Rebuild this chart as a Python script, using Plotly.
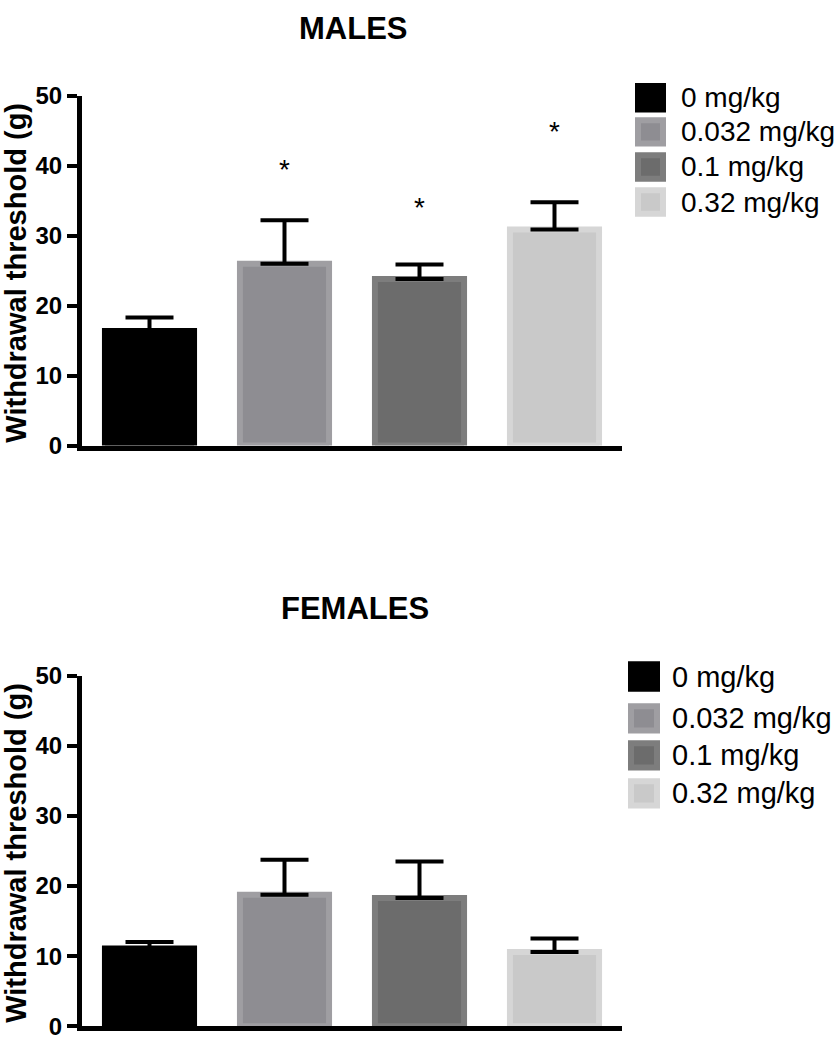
import plotly.graph_objects as go

W, H = 838, 1050

doses = ["0 mg/kg", "0.032 mg/kg", "0.1 mg/kg", "0.32 mg/kg"]
males_mean = [16.4, 26.0, 23.8, 30.9]
males_sem = [1.9, 6.2, 2.1, 3.9]
females_mean = [11.1, 18.75, 18.3, 10.6]
females_sem = [0.9, 5.0, 5.2, 1.9]
sig_doses = ["0.032 mg/kg", "0.1 mg/kg", "0.32 mg/kg"]
sig_y = [39.1, 33.7, 44.6]
y_ticks = [0, 10, 20, 30, 40, 50]

fill_colors = ["#000000", "#8e8d92", "#6c6c6c", "#c9c9c9"]
edge_colors = ["#000000", "#9f9ea2", "#7d7d7d", "#d6d6d6"]

FONT = "Liberation Sans, Arial, sans-serif"

def px_x(p):
    return p / W

def px_y(p):
    return 1 - p / H

fig = go.Figure()

panels = [
    ("y", "x", males_mean, males_sem),
    ("y2", "x2", females_mean, females_sem),
]
for yref, xref, mean, sem in panels:
    fig.add_trace(go.Bar(
        x=doses, y=mean, xaxis=xref, yaxis=yref,
        width=0.66,
        marker=dict(color=fill_colors, line=dict(color=edge_colors, width=6)),
        error_y=dict(type="data", symmetric=False, array=sem,
                     arrayminus=[0] * len(sem), color="black",
                     thickness=4, width=24),
        showlegend=False, hoverinfo="skip",
    ))

fig.add_trace(go.Scatter(
    x=sig_doses, y=sig_y, xaxis="x", yaxis="y", mode="text",
    text=["*"] * len(sig_doses), textposition="middle center",
    textfont=dict(family=FONT, size=28, color="black"),
    showlegend=False, hoverinfo="skip",
))

xdom = [px_x(82), px_x(622)]
xcommon = dict(domain=xdom, type="category", categoryorder="array",
               categoryarray=doses, range=[-0.5, 3.5],
               showticklabels=False, ticks="", showgrid=False,
               showline=True, linewidth=5, linecolor="black", zeroline=False)
ycommon = dict(range=[0, 50], tickvals=y_ticks, ticks="outside", ticklen=10,
               tickwidth=4, tickcolor="black", showline=True, linewidth=5,
               linecolor="black", showgrid=False, zeroline=False,
               tickfont=dict(family=FONT, size=24, color="black", weight="bold"))

fig.update_layout(
    width=W, height=H,
    margin=dict(l=0, r=0, t=0, b=0),
    paper_bgcolor="white", plot_bgcolor="white",
    xaxis=dict(anchor="y", **xcommon),
    yaxis=dict(anchor="x", domain=[px_y(443), px_y(84)], **ycommon),
    xaxis2=dict(anchor="y2", **xcommon),
    yaxis2=dict(anchor="x2", domain=[px_y(1039), px_y(679)], **ycommon),
)

annotations = []
shapes = []

# panel titles
for text, cx, cy in [("MALES", 353, 15), ("FEMALES", 355, 610)]:
    annotations.append(dict(text=text, x=px_x(cx), y=px_y(cy), xref="paper", yref="paper",
                            xanchor="center", yanchor="middle", showarrow=False,
                            font=dict(family=FONT, size=31, color="black", weight="bold")))

# y axis titles
for cy in [(88 + 443) / 2, (683 + 1039) / 2]:
    annotations.append(dict(text="Withdrawal threshold (g)", x=px_x(16), y=px_y(cy),
                            xref="paper", yref="paper", xanchor="center", yanchor="middle",
                            textangle=-90, showarrow=False,
                            font=dict(family=FONT, size=29, color="black", weight="bold")))

# custom legends (swatch + label)
legend_specs = [
    (635, 666, 679, [86, 121, 157, 193], 30, 28),
    (628, 660, 670, [680, 723, 761, 800], 31, 29),
]
for sx0, sx1, tx, centers, size, fsize in legend_specs:
    for i, (label, cy) in enumerate(zip(doses, centers)):
        half = size / 2
        shapes.append(dict(type="rect", xref="paper", yref="paper",
                           x0=px_x(sx0 + 3), x1=px_x(sx1 - 3),
                           y0=px_y(cy + half - 3), y1=px_y(cy - half + 3),
                           fillcolor=fill_colors[i],
                           line=dict(color=edge_colors[i], width=6)))
        annotations.append(dict(text=label, x=px_x(tx), y=px_y(cy), xref="paper", yref="paper",
                                xanchor="left", yanchor="middle", showarrow=False,
                                font=dict(family=FONT, size=fsize, color="black")))

fig.update_layout(annotations=annotations, shapes=shapes)

fig.write_html("out.html", config={"displayModeBar": False},
               post_script="document.body.style.margin='0';document.body.style.overflow='hidden';")
